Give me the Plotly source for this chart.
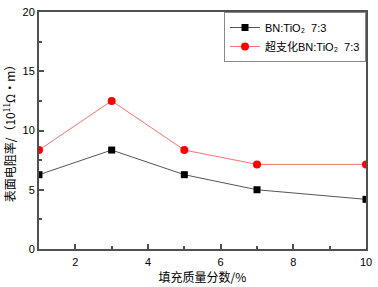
import plotly.graph_objects as go

x_vals = [1, 3, 5, 7, 10]
bn_tio2 = [6.27, 8.35, 6.27, 5.0, 4.19]
hb_bn_tio2 = [8.35, 12.5, 8.35, 7.14, 7.14]
name1 = "BN:TiO\u2082\u00a0\u00a07:3"
name2 = "超支化BN:TiO\u2082\u00a0\u00a07:3"

fig = go.Figure()
fig.add_trace(go.Scatter(x=x_vals, y=bn_tio2, mode="lines+markers", name=name1,
                         line=dict(color="#555555", width=1),
                         marker=dict(symbol="square", size=7, color="black")))
fig.add_trace(go.Scatter(x=x_vals, y=hb_bn_tio2, mode="lines+markers", name=name2,
                         line=dict(color="#ff7070", width=1),
                         marker=dict(symbol="circle", size=8, color="red")))

axis_common = dict(showline=True, linecolor="#505050", linewidth=2, mirror=True,
                   ticks="inside", ticklen=5, tickwidth=1.5, tickcolor="#505050",
                   showgrid=False, zeroline=False,
                   tickfont=dict(family="Arial, Liberation Sans", size=11, color="black"))
fig.update_xaxes(range=[1, 10], tickvals=[2, 4, 6, 8, 10],
                 minor=dict(ticks="inside", ticklen=3, tickvals=[1, 3, 5, 7, 9], tickcolor="#505050"),
                 ticklabelstandoff=2,
                 title=dict(text="填充质量分数/%", font=dict(family="Noto Sans CJK SC", size=12, color="black"), standoff=4),
                 **axis_common)
fig.update_yaxes(range=[0, 20], tickvals=[0, 5, 10, 15, 20],
                 minor=dict(ticks="inside", ticklen=3, tickvals=[2.5, 7.5, 12.5, 17.5], tickcolor="#505050"),
                 title=dict(text="表面电阻率/（10<sup>11</sup>Ω·m）", font=dict(family="Noto Sans CJK SC", size=12, color="black"), standoff=4),
                 **axis_common)

fig.update_layout(
    width=378, height=287,
    margin=dict(l=39, r=7, t=6, b=35),
    plot_bgcolor="white", paper_bgcolor="white",
    legend=dict(x=1, y=1.0, xanchor="right", yanchor="top",
                bordercolor="#888888", borderwidth=1, bgcolor="white",
                font=dict(family="Arial, Noto Sans CJK SC", size=11, color="black"),
                tracegroupgap=0, itemwidth=30),
    showlegend=True,
)
fig.write_html("out.html", config={"displayModeBar": False},
               post_script="document.body.style.margin='0';document.body.style.overflow='hidden';")
